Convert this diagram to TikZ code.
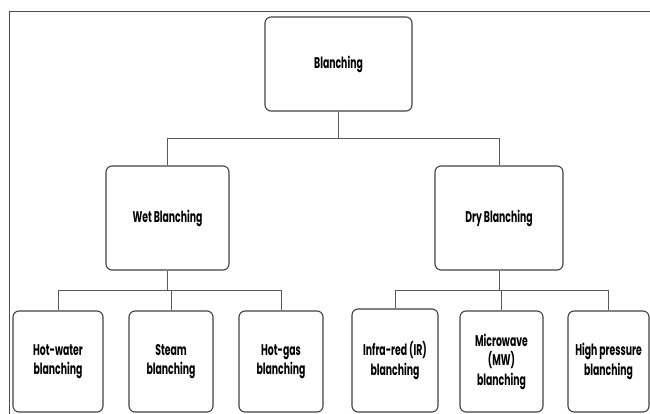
\documentclass[tikz,border=0pt]{standalone}
\usepackage{fontspec}
\setmainfont{Poppins}[FakeStretch=0.6]
\usepackage{tikz}
\tikzset{box/.style={draw=black!75, line width=1.1pt, rounded corners=6pt, align=center, inner sep=0pt,
  font=\fontsize{15.5}{19.5}\selectfont\bfseries},
  link/.style={draw=black!65, line width=0.9pt}}

\begin{document}
\begin{tikzpicture}[x=1pt,y=-1pt]
\useasboundingbox (0,0) rectangle (650,414);
\draw[draw=black!70, line width=1pt] (9,414) -- (9,11.5) -- (650,11.5);
\node[box, minimum width=147pt, minimum height=94pt] (root) at (338.5,64) {Blanching};
\node[box, minimum width=123pt, minimum height=104pt] (wet) at (167.5,218) {Wet Blanching};
\node[box, minimum width=128pt, minimum height=104pt] (dry) at (499,218) {Dry Blanching};
\node[box, minimum width=90pt, minimum height=101pt] (hw) at (58,361.5) {Hot-water\\blanching};
\node[box, minimum width=84pt, minimum height=101pt] (steam) at (171,361.5) {Steam\\blanching};
\node[box, minimum width=84pt, minimum height=101pt] (hg) at (281,361.5) {Hot-gas\\blanching};
\node[box, minimum width=86pt, minimum height=103pt] (ir) at (395,360.5) {Infra-red (IR)\\blanching};
\node[box, minimum width=83pt, minimum height=101pt] (mw) at (501.5,361.5) {Microwave\\(MW)\\blanching};
\node[box, minimum width=81pt, minimum height=101pt] (hp) at (608.5,361.5) {High pressure\\blanching};
\coordinate (topbus) at (338.5,138);
\coordinate (wetbus) at (167.5,290);
\coordinate (drybus) at (499,290);
\draw[link] (root.south) -- (topbus) -| (wet.north);
\draw[link] (topbus) -| (dry.north);
\draw[link] (wet.south) -- (wetbus) -| (hw.north);
\draw[link] (wetbus) -| (steam.north);
\draw[link] (wetbus) -| (hg.north);
\draw[link] (dry.south) -- (drybus) -| (ir.north);
\draw[link] (drybus) -| (mw.north);
\draw[link] (drybus) -| (hp.north);
\end{tikzpicture}
\end{document}
